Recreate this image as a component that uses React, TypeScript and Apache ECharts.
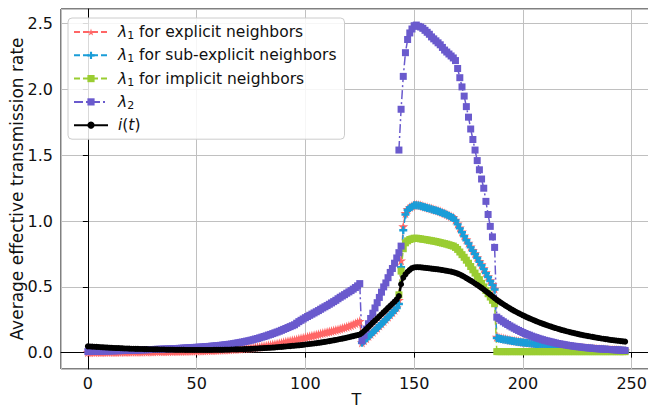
import React, { useEffect, useRef } from "react";
import * as echarts from "echarts";

// ---------- data ----------
const explicitStart = 0;
const explicitValues = [
  0.004, 0.004, 0.005, 0.004, 0.005, 0.005, 0.004, 0.005, 0.005, 0.006,
  0.005, 0.006, 0.006, 0.005, 0.006, 0.006, 0.007, 0.006, 0.007, 0.007,
  0.007, 0.008, 0.007, 0.008, 0.008, 0.008, 0.009, 0.008, 0.009, 0.009,
  0.009, 0.010, 0.010, 0.010, 0.011, 0.010, 0.011, 0.011, 0.012, 0.011,
  0.012, 0.012, 0.013, 0.012, 0.013, 0.013, 0.014, 0.014, 0.014, 0.015,
  0.015, 0.016, 0.016, 0.017, 0.017, 0.018, 0.018, 0.019, 0.020, 0.020,
  0.021, 0.022, 0.022, 0.023, 0.024, 0.025, 0.026, 0.027, 0.028, 0.029,
  0.030, 0.032, 0.033, 0.035, 0.036, 0.038, 0.040, 0.042, 0.044, 0.046,
  0.048, 0.050, 0.053, 0.056, 0.059, 0.062, 0.065, 0.068, 0.072, 0.075,
  0.080, 0.083, 0.087, 0.090, 0.094, 0.097, 0.101, 0.105, 0.109, 0.113,
  0.117, 0.121, 0.125, 0.129, 0.133, 0.137, 0.141, 0.145, 0.149, 0.153,
  0.157, 0.161, 0.165, 0.169, 0.173, 0.177, 0.182, 0.187, 0.192, 0.197,
  0.203, 0.209, 0.216, 0.223, 0.231, 0.240,
  0.078, 0.094, 0.110, 0.126, 0.142, 0.158, 0.174, 0.190, 0.206, 0.222,
  0.239, 0.256, 0.273, 0.290, 0.307, 0.325, 0.345, 0.400,
  0.700, 0.960, 1.060, 1.090, 1.105, 1.115,
  1.125, 1.125, 1.122, 1.120, 1.115, 1.110, 1.105, 1.100, 1.095, 1.090,
  1.085, 1.080, 1.075, 1.067, 1.060, 1.053, 1.045, 1.037, 1.030, 1.010,
  0.980, 0.950, 0.920, 0.890, 0.860, 0.835, 0.805, 0.780, 0.755, 0.725,
  0.695, 0.670, 0.640, 0.610, 0.580, 0.550, 0.520, 0.485,
  0.120, 0.115, 0.111, 0.107, 0.104, 0.100, 0.097, 0.094, 0.091, 0.088,
  0.086, 0.083, 0.081, 0.079, 0.077, 0.075, 0.073, 0.071, 0.069, 0.067,
  0.065, 0.063, 0.061, 0.059, 0.058, 0.056, 0.054, 0.053, 0.051, 0.050,
  0.048, 0.047, 0.045, 0.044, 0.043, 0.041, 0.040, 0.039, 0.038, 0.036,
  0.035, 0.034, 0.033, 0.032, 0.031, 0.030, 0.029, 0.028, 0.027, 0.026,
  0.025, 0.024, 0.023, 0.022, 0.021, 0.020, 0.019, 0.018, 0.017, 0.016,
];

const subExplicitStart = 126;
const subExplicitValues = [
  0.075, 0.091, 0.107, 0.123, 0.139, 0.155, 0.171, 0.187, 0.203, 0.219,
  0.236, 0.253, 0.270, 0.287, 0.304, 0.322, 0.340, 0.370,
  0.650, 0.930, 1.050, 1.085, 1.100, 1.110,
  1.120, 1.120, 1.118, 1.115, 1.110, 1.105, 1.100, 1.095, 1.090, 1.085,
  1.080, 1.075, 1.070, 1.062, 1.055, 1.048, 1.040, 1.032, 1.024, 1.005,
  0.975, 0.945, 0.915, 0.885, 0.855, 0.830, 0.800, 0.775, 0.750, 0.720,
  0.690, 0.665, 0.635, 0.605, 0.575, 0.545, 0.515, 0.480,
  0.112, 0.108, 0.104, 0.101, 0.098, 0.095, 0.092, 0.089, 0.087, 0.084,
  0.082, 0.080, 0.078, 0.076, 0.074, 0.072, 0.070, 0.068, 0.066, 0.064,
  0.062, 0.060, 0.058, 0.057, 0.055, 0.053, 0.052, 0.050, 0.049, 0.047,
  0.046, 0.044, 0.043, 0.042, 0.040, 0.039, 0.038, 0.037, 0.035, 0.034,
  0.033, 0.032, 0.031, 0.030, 0.029, 0.028, 0.027, 0.026, 0.025, 0.024,
  0.023, 0.022, 0.021, 0.020, 0.019, 0.018, 0.017, 0.016, 0.015, 0.014,
];

const implicitStart = 143;
const implicitValues = [
  0.440, 0.620, 0.790, 0.835, 0.850, 0.860, 0.865, 0.870, 0.870, 0.868,
  0.865, 0.862, 0.860, 0.857, 0.854, 0.851, 0.848, 0.845, 0.841, 0.837,
  0.833, 0.829, 0.825, 0.820, 0.815, 0.810, 0.800, 0.785, 0.765, 0.745,
  0.725, 0.703, 0.680, 0.655, 0.630, 0.605, 0.580, 0.555, 0.527, 0.500,
  0.473, 0.448, 0.423, 0.398, 0.372,
  0.008, 0.008, 0.008, 0.008, 0.008, 0.008, 0.008, 0.008, 0.008, 0.008,
  0.008, 0.008, 0.008, 0.008, 0.008, 0.008, 0.008, 0.008, 0.008, 0.008,
  0.008, 0.008, 0.008, 0.008, 0.008, 0.008, 0.008, 0.008, 0.008, 0.008,
  0.008, 0.008, 0.008, 0.008, 0.008, 0.008, 0.008, 0.008, 0.008, 0.008,
  0.008, 0.008, 0.008, 0.008, 0.008, 0.008, 0.008, 0.008, 0.008, 0.008,
  0.008, 0.008, 0.008, 0.008, 0.008, 0.008, 0.008, 0.008, 0.008, 0.008,
];

// lambda2 is drawn in two runs (the reference line breaks near T = 143)
const lambda2LowStart = 0;
const lambda2LowValues = [
  0.008, 0.009, 0.009, 0.010, 0.010, 0.011, 0.011, 0.012, 0.012, 0.013,
  0.013, 0.014, 0.014, 0.015, 0.015, 0.016, 0.016, 0.017, 0.017, 0.018,
  0.018, 0.019, 0.019, 0.020, 0.021, 0.021, 0.022, 0.022, 0.023, 0.024,
  0.024, 0.025, 0.026, 0.026, 0.027, 0.028, 0.028, 0.029, 0.030, 0.031,
  0.031, 0.032, 0.033, 0.034, 0.035, 0.036, 0.037, 0.038, 0.039, 0.040,
  0.041, 0.042, 0.043, 0.044, 0.046, 0.047, 0.048, 0.050, 0.051, 0.053,
  0.054, 0.056, 0.058, 0.060, 0.062, 0.064, 0.066, 0.069, 0.072, 0.075,
  0.078, 0.081, 0.084, 0.088, 0.091, 0.095, 0.099, 0.104, 0.108, 0.113,
  0.118, 0.123, 0.128, 0.134, 0.139, 0.145, 0.151, 0.157, 0.163, 0.170,
  0.177, 0.184, 0.191, 0.198, 0.205, 0.212, 0.224, 0.236, 0.246, 0.256,
  0.266, 0.275, 0.284, 0.293, 0.302, 0.311, 0.320, 0.330, 0.340, 0.349,
  0.358, 0.368, 0.378, 0.388, 0.398, 0.410, 0.421, 0.431, 0.441, 0.452,
  0.462, 0.472, 0.483, 0.495, 0.508, 0.525,
  0.090, 0.130, 0.180, 0.220, 0.260, 0.300, 0.340, 0.380, 0.420, 0.460,
  0.500, 0.530, 0.570, 0.610, 0.640, 0.680, 0.720, 0.760, 0.810,
];

const lambda2HighStart = 143;
const lambda2HighValues = [
  1.540, 1.850, 2.100, 2.280, 2.380, 2.430, 2.460, 2.485, 2.490, 2.480,
  2.475, 2.465, 2.450, 2.435, 2.420, 2.400, 2.385, 2.370, 2.355, 2.340,
  2.320, 2.300, 2.285, 2.270, 2.255, 2.240, 2.220, 2.160, 2.090, 2.020,
  1.950, 1.870, 1.790, 1.700, 1.620, 1.540, 1.460, 1.390, 1.320, 1.250,
  1.150, 1.050, 0.960, 0.880, 0.800,
  0.270, 0.258, 0.246, 0.235, 0.224, 0.214, 0.204, 0.195, 0.186, 0.177,
  0.169, 0.161, 0.153, 0.146, 0.139, 0.133, 0.126, 0.120, 0.115, 0.109,
  0.104, 0.099, 0.094, 0.090, 0.086, 0.082, 0.078, 0.074, 0.070, 0.067,
  0.064, 0.061, 0.058, 0.055, 0.053, 0.050, 0.048, 0.046, 0.044, 0.042,
  0.040, 0.038, 0.036, 0.035, 0.033, 0.032, 0.030, 0.029, 0.028, 0.027,
  0.026, 0.025, 0.024, 0.023, 0.022, 0.021, 0.020, 0.019, 0.018, 0.017,
];

const infectedStart = 0;
const infectedValues = [
  0.048, 0.047, 0.046, 0.045, 0.044, 0.043, 0.042, 0.041, 0.040, 0.039,
  0.038, 0.037, 0.036, 0.035, 0.035, 0.034, 0.033, 0.032, 0.032, 0.031,
  0.030, 0.030, 0.029, 0.029, 0.028, 0.028, 0.027, 0.027, 0.026, 0.026,
  0.025, 0.025, 0.025, 0.024, 0.024, 0.024, 0.023, 0.023, 0.023, 0.023,
  0.022, 0.022, 0.022, 0.022, 0.022, 0.021, 0.021, 0.021, 0.021, 0.021,
  0.021, 0.021, 0.021, 0.021, 0.021, 0.021, 0.021, 0.021, 0.022, 0.022,
  0.022, 0.022, 0.022, 0.023, 0.023, 0.023, 0.024, 0.024, 0.025, 0.025,
  0.026, 0.026, 0.027, 0.028, 0.028, 0.029, 0.030, 0.031, 0.032, 0.033,
  0.034, 0.035, 0.036, 0.037, 0.038, 0.039, 0.040, 0.042, 0.043, 0.044,
  0.046, 0.047, 0.049, 0.050, 0.052, 0.053, 0.055, 0.056, 0.058, 0.060,
  0.062, 0.064, 0.066, 0.068, 0.070, 0.072, 0.075, 0.077, 0.080, 0.082,
  0.085, 0.088, 0.091, 0.094, 0.097, 0.100, 0.104, 0.107, 0.110, 0.114,
  0.118, 0.122, 0.126, 0.130, 0.134, 0.138,
  0.150, 0.165, 0.180, 0.196, 0.212, 0.228, 0.244, 0.260, 0.276, 0.292,
  0.308, 0.324, 0.340, 0.356, 0.372, 0.388, 0.405, 0.430,
  0.520, 0.570, 0.595, 0.615, 0.630, 0.642,
  0.648, 0.650, 0.650, 0.649, 0.647, 0.645, 0.643, 0.641, 0.639, 0.637,
  0.635, 0.633, 0.631, 0.628, 0.625, 0.622, 0.619, 0.616, 0.612, 0.607,
  0.601, 0.594, 0.586, 0.577, 0.567, 0.557, 0.547, 0.537, 0.526, 0.515,
  0.504, 0.492, 0.480, 0.467, 0.454, 0.441, 0.428, 0.415, 0.402, 0.390,
  0.379, 0.368, 0.357, 0.347, 0.337, 0.327, 0.318, 0.309, 0.300, 0.292,
  0.284, 0.276, 0.268, 0.261, 0.254, 0.247, 0.240, 0.233, 0.227, 0.221,
  0.215, 0.209, 0.203, 0.198, 0.192, 0.187, 0.182, 0.177, 0.172, 0.168,
  0.163, 0.159, 0.155, 0.151, 0.147, 0.143, 0.139, 0.136, 0.132, 0.129,
  0.126, 0.123, 0.120, 0.117, 0.114, 0.111, 0.108, 0.106, 0.103, 0.101,
  0.098, 0.096, 0.094, 0.092, 0.090, 0.088, 0.086, 0.084,
];

const seriesNames = ["explicit", "subexplicit", "implicit", "lambda2", "infected"];
const legendLabels: Record<string, string> = {
  explicit: "{l|λ}{s|1}{n| for explicit neighbors}",
  subexplicit: "{l|λ}{s|1}{n| for sub-explicit neighbors}",
  implicit: "{l|λ}{s|1}{n| for implicit neighbors}",
  lambda2: "{l|λ}{s|2}",
  infected: "{l|i}{n|(}{l|t}{n|)}",
};
const xAxisTitle = "T";
const yAxisTitle = "Average effective transmission rate";

// ---------- styling ----------
const RED = "#ff6666";
const BLUE = "#1a9dd8";
const GREEN = "#9acd32";
const SLATE = "#6a5acd";
const BLACK = "#000000";
const FONT = "DejaVu Sans";
const STAR =
  "path://M50,0 L61,35 L98,35 L68,57 L79,91 L50,70 L21,91 L32,57 L2,35 L39,35 Z";
const PLUS =
  "path://M35,0 L65,0 L65,35 L100,35 L100,65 L65,65 L65,100 L35,100 L35,65 L0,65 L0,35 L35,35 Z";

const toPairs = (start: number, vals: number[]) => vals.map((v, i) => [start + i, v]);

export default function App() {
  const ref = useRef<HTMLDivElement>(null);

  useEffect(() => {
    document.body.style.margin = "0";
    const chart = echarts.init(ref.current as HTMLDivElement, null, { renderer: "svg" });

    const base = {
      type: "line" as const,
      showAllSymbol: true,
      emphasis: { disabled: true },
      silent: true,
    };

    chart.setOption({
      animation: false,
      backgroundColor: "#ffffff",
      grid: {
        left: 61,
        right: -4,
        top: 9,
        bottom: 42,
        show: true,
        borderColor: "#000",
        borderWidth: 1,
        containLabel: false,
        outerBoundsMode: "none",
      },
      xAxis: {
        type: "value",
        min: -12.35,
        max: 259.35,
        name: xAxisTitle,
        nameLocation: "middle",
        nameGap: 22,
        nameMoveOverlap: false,
        nameTextStyle: { fontFamily: FONT, fontSize: 16, color: "#111" },
        axisLine: { show: true, lineStyle: { color: "#000", width: 1 } },
        axisTick: { show: true, inside: false, length: 5, lineStyle: { color: "#000" } },
        axisLabel: {
          fontFamily: FONT,
          fontSize: 16,
          color: "#111",
          margin: 6,
          showMinLabel: false,
          showMaxLabel: false,
        },
        splitLine: { show: true, lineStyle: { color: "#c0c0c0", width: 1 } },
      },
      yAxis: {
        type: "value",
        min: -0.124,
        max: 2.612,
        name: yAxisTitle,
        nameLocation: "middle",
        nameGap: 36,
        nameMoveOverlap: false,
        nameTextStyle: { fontFamily: FONT, fontSize: 17, color: "#111" },
        axisLine: { show: true, lineStyle: { color: "#000", width: 1 } },
        axisTick: { show: true, inside: false, length: 5, lineStyle: { color: "#000" } },
        axisLabel: {
          fontFamily: FONT,
          fontSize: 16,
          color: "#111",
          margin: 8,
          showMinLabel: false,
          showMaxLabel: false,
          formatter: (v: number) => v.toFixed(1),
        },
        splitLine: { show: true, lineStyle: { color: "#c0c0c0", width: 1 } },
      },
      legend: {
        data: seriesNames,
        orient: "vertical",
        left: 68,
        top: 18,
        padding: [5, 8, 5, 5],
        itemWidth: 34,
        itemHeight: 9,
        itemGap: 5.3,
        backgroundColor: "rgba(255,255,255,0.85)",
        borderColor: "#cccccc",
        borderWidth: 1,
        borderRadius: 4,
        formatter: (name: string) => legendLabels[name],
        textStyle: {
          fontFamily: FONT,
          fontSize: 15.5,
          color: "#111",
          lineHeight: 18,
          padding: [0, 0, 0, 5],
          rich: {
            l: { fontFamily: FONT, fontSize: 15.5, fontStyle: "italic", color: "#111", lineHeight: 18 },
            s: { fontFamily: FONT, fontSize: 11, color: "#111", lineHeight: 11, verticalAlign: "bottom" },
            n: { fontFamily: FONT, fontSize: 15.5, color: "#111", lineHeight: 18 },
          },
        },
      },
      series: [
        {
          ...base,
          name: "explicit",
          data: toPairs(explicitStart, explicitValues),
          symbol: STAR,
          symbolSize: 10,
          lineStyle: { color: RED, width: 1.5, type: [6, 3] },
          itemStyle: { color: RED },
        },
        {
          ...base,
          name: "subexplicit",
          data: toPairs(subExplicitStart, subExplicitValues),
          symbol: PLUS,
          symbolSize: 8,
          lineStyle: { color: BLUE, width: 1.5, type: [6, 3] },
          itemStyle: { color: BLUE },
        },
        {
          ...base,
          name: "implicit",
          data: toPairs(implicitStart, implicitValues),
          symbol: "rect",
          symbolSize: 7,
          lineStyle: { color: GREEN, width: 1.5, type: [6, 3] },
          itemStyle: { color: GREEN },
        },
        {
          ...base,
          name: "lambda2",
          data: toPairs(lambda2LowStart, lambda2LowValues),
          symbol: "rect",
          symbolSize: 7,
          lineStyle: { color: SLATE, width: 1.5, type: [9, 3, 2, 3] },
          itemStyle: { color: SLATE },
        },
        {
          ...base,
          name: "lambda2",
          data: toPairs(lambda2HighStart, lambda2HighValues),
          symbol: "rect",
          symbolSize: 7,
          lineStyle: { color: SLATE, width: 1.5, type: [9, 3, 2, 3] },
          itemStyle: { color: SLATE },
        },
        {
          ...base,
          name: "infected",
          data: toPairs(infectedStart, infectedValues),
          symbol: "circle",
          symbolSize: 6,
          lineStyle: { color: BLACK, width: 2.5, type: "solid" },
          itemStyle: { color: BLACK },
        },
      ],
    });

    return () => chart.dispose();
  }, []);

  return (
    <div
      ref={ref}
      style={{ position: "fixed", left: 0, top: 0, width: 648, height: 411 }}
    />
  );
}
